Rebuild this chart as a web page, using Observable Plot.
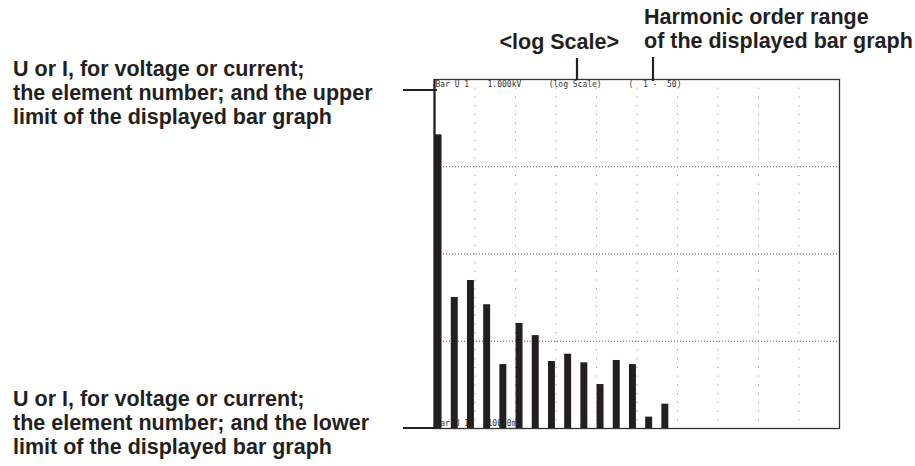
<!DOCTYPE html>
<html>
<head>
<meta charset="utf-8">
<script src="https://cdn.jsdelivr.net/npm/d3@7"></script>
<script src="https://cdn.jsdelivr.net/npm/@observablehq/plot@0.6"></script>
<style>
  html, body { margin: 0; padding: 0; background: #fff; }
  #wrap { position: relative; width: 915px; height: 466px; }
  #wrap svg { display: block; }
  #notes { position: absolute; left: 0; top: 0; pointer-events: none; }
</style>
</head>
<body>
<div id="wrap"></div>
<script>
// ---- data ----
const harmonicOrders = [1, 3, 5, 7, 9, 11, 13, 15, 17, 19, 21, 23, 25, 27, 29];
const voltages = [232, 3.17, 4.97, 2.62, 0.54, 1.60, 1.16, 0.586, 0.711, 0.566, 0.319, 0.602, 0.54, 0.135, 0.19];
const decadeLines = [1, 10, 100];
const divisionLines = [5.5, 10.5, 15.5, 20.5, 25.5, 30.5, 35.5, 40.5, 45.5];
const scaleLimits = [0.1, 1000];
const orderRange = [0.5, 50.5];
const headerLabels = ["Bar U 1", "1.000kV", "(log Scale)", "(  1 -  50)"];
const footerLabels = ["Bar U 1", "100.0mV"];
const upperNote = ["U or I, for voltage or current;", "the element number; and the upper", "limit of the displayed bar graph"];
const lowerNote = ["U or I, for voltage or current;", "the element number; and the lower", "limit of the displayed bar graph"];
const logNote = ["<log Scale>"];
const rangeNote = ["Harmonic order range", "of the displayed bar graph"];

const bars = harmonicOrders.map((o, i) => ({order: o, value: voltages[i]}));
const headerX = [0.62, 7.05, 14.6, 24.45];
const header = headerLabels.map((t, i) => ({x: headerX[i], text: t}));
const footer = footerLabels.map((t, i) => ({x: headerX[i], text: t}));

const W = 915, H = 466;
const mL = 434, mR = 76, mT = 79, mB = 38;
const decadePx = (H - mT - mB) / 4;
const mono = "DejaVu Sans Mono, monospace";

const chart = Plot.plot({
  width: W, height: H,
  marginLeft: mL, marginRight: mR, marginTop: mT, marginBottom: mB,
  x: {type: "linear", domain: orderRange, axis: null},
  y: {type: "log", domain: scaleLimits, axis: null},
  marks: [
    Plot.ruleY(decadeLines, {stroke: "#555", strokeWidth: 1, strokeDasharray: "1,2"}),
    Plot.ruleX(divisionLines, {stroke: "#888", strokeWidth: 1, strokeDasharray: `1,${decadePx / 10 - 1}`}),
    Plot.text(footer, {x: "x", y: scaleLimits[0], text: "text", textAnchor: "start", lineAnchor: "bottom", dy: -3, fontFamily: mono, fontSize: 8, fill: "#333"}),
    Plot.rectY(bars, {x1: d => d.order - 0.43, x2: d => d.order + 0.43, y1: scaleLimits[0], y2: "value", fill: "#231f20"}),
    Plot.text(header, {x: "x", y: scaleLimits[1], text: "text", textAnchor: "start", lineAnchor: "bottom", dy: 7, fontFamily: mono, fontSize: 8, fill: "#333"}),
    Plot.frame({stroke: "#333", strokeWidth: 1.3}),
    Plot.ruleX([orderRange[0]], {stroke: "#231f20", strokeWidth: 2.2})
  ]
});
document.getElementById("wrap").appendChild(chart);

// ---- callout annotations ----
const notes = d3.select("#wrap").append("svg")
  .attr("id", "notes").attr("width", W).attr("height", H);
const font = "'Liberation Sans', Arial, Helvetica, sans-serif";
function block(lines, x, y0) {
  lines.forEach((t, i) => {
    notes.append("text").attr("x", x).attr("y", y0 + i * 24)
      .attr("font-family", font).attr("font-weight", "bold").attr("font-size", 21.5)
      .attr("fill", "#231f20").text(t);
  });
}
block(upperNote, 13, 76);
block(lowerNote, 13, 406);
block(logNote, 499.5, 49);
block(rangeNote, 644, 24);

const leaders = [
  [403, 90, 437, 90],
  [403, 428, 437, 428],
  [577, 58, 577, 80],
  [653, 57, 653, 81]
];
leaders.forEach(([x1, y1, x2, y2]) => {
  notes.append("line").attr("x1", x1).attr("y1", y1).attr("x2", x2).attr("y2", y2)
    .attr("stroke", "#231f20").attr("stroke-width", 2.2);
});
</script>
</body>
</html>
